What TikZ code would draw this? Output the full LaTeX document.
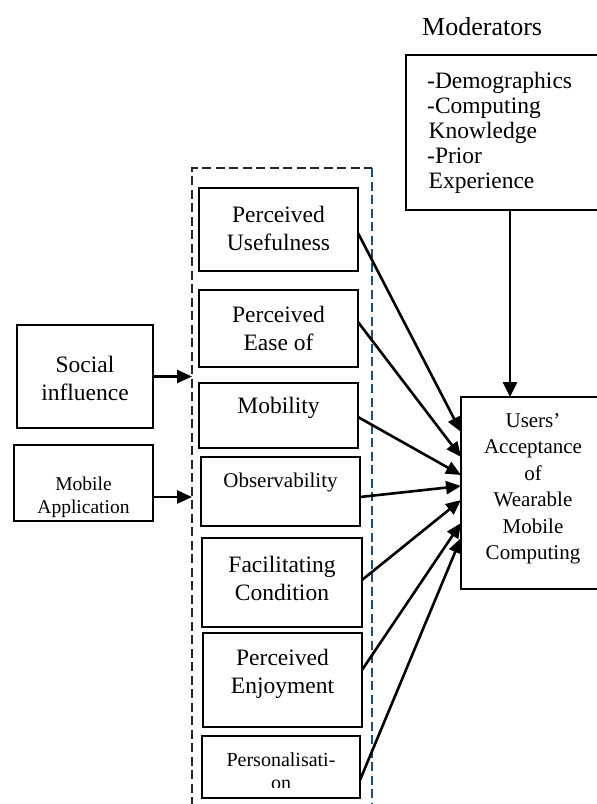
\documentclass[tikz,border=0pt]{standalone}
\usepackage{fontspec}
\setmainfont{Liberation Serif}
\usetikzlibrary{arrows.meta}
\newcommand{\stk}[1]{\begin{tabular}[t]{@{}c@{}}#1\end{tabular}}
\newcommand{\stkl}[1]{\begin{tabular}[t]{@{}l@{}}#1\end{tabular}}
\definecolor{dashblue}{HTML}{1F4E79}
\begin{document}
\begin{tikzpicture}[x=1pt,y=-1pt,
  box/.style={draw, line width=1.8pt, rectangle, inner sep=0pt, outer sep=0pt},
  thinbox/.style={draw, line width=1.3pt, rectangle, inner sep=0pt, outer sep=0pt},
  lbl/.style={anchor=base, inner sep=0pt, font=\fontsize{23.5}{28}\selectfont},
  arr/.style={line width=2.6pt, -{Triangle[length=15pt,width=13pt]}},
  frame/.style={line width=1.2pt, dash pattern=on 9pt off 4.5pt}]
\useasboundingbox (0,0) rectangle (597,804);

% dashed frame
\coordinate (fbl) at (192,806);
\coordinate (ftl) at (192,168);
\coordinate (ftr) at (372,168);
\coordinate (fbr) at (372,806);
\draw[frame, black!85] (fbl) -- (ftl) -- (ftr);
\draw[frame, dashblue] (ftr) -- (fbr);

% construct boxes
\node[box, minimum width=159pt, minimum height=83pt] (pu) at (278.5,229.5) {};
\node[box, minimum width=159pt, minimum height=77pt] (pe) at (278.5,328.5) {};
\node[box, minimum width=159pt, minimum height=65pt] (mo) at (278.5,415.5) {};
\node[box, minimum width=159pt, minimum height=69pt] (ob) at (280.5,491.5) {};
\node[box, minimum width=160pt, minimum height=89pt] (fc) at (282,582.5) {};
\node[box, minimum width=159pt, minimum height=94pt] (en) at (282.5,680) {};
\node[box, minimum width=158pt, minimum height=62pt] (ps) at (281,767) {};

\node[lbl] (pu-t) at ([yshift=-34pt]pu.north) {\stk{Perceived\\Usefulness}};
\node[lbl] (pe-t) at ([yshift=-32pt]pe.north) {\stk{Perceived\\Ease of}};
\node[lbl] (mo-t) at ([yshift=-30pt]mo.north) {Mobility};
\node[lbl, font=\fontsize{21}{25}\selectfont] (ob-t) at ([yshift=-30pt]ob.north) {Observability};
\node[lbl] (fc-t) at ([yshift=-34pt]fc.north) {\stk{Facilitating\\Condition}};
\node[lbl] (en-t) at ([yshift=-32pt]en.north) {\stk{Perceived\\Enjoyment}};
\begin{scope}
  \clip (202,736) rectangle (360,787.5);
  \node[lbl, font=\fontsize{20}{23}\selectfont] (ps-t) at ([yshift=-30pt]ps.north) {\stk{Personalisati-\\on}};
\end{scope}

% left boxes
\node[box, minimum width=136pt, minimum height=103pt] (si) at (85,376.5) {};
\node[lbl] (si-t) at ([yshift=-47pt]si.north) {\stk{Social\\influence}};
\node[box, minimum width=139pt, minimum height=76pt] (ma) at (83.5,483) {};
\node[lbl, font=\fontsize{19.5}{23}\selectfont] (ma-t) at ([yshift=-45pt]ma.north) {\stk{Mobile\\Application}};

% moderators
\node[anchor=base west, inner sep=0pt, font=\fontsize{26}{30}\selectfont] (md-title) at (422,35) {Moderators};
\node[box, line width=1.6pt, minimum width=192pt, minimum height=155pt] (md) at (502,132.5) {};
\node[anchor=base west, inner sep=0pt, font=\fontsize{23.5}{25}\selectfont] (md-t) at (427,88)
  {\stkl{-Demographics\\-Computing\\\hspace{1.5pt}Knowledge\\-Prior\\\hspace{1.5pt}Experience}};

% users acceptance
\node[thinbox, minimum width=144pt, minimum height=192pt] (ua) at (533,493) {};
\node[lbl, font=\fontsize{21}{26.5}\selectfont] (ua-t) at ([yshift=-30pt]ua.north)
  {\stk{Users’\\Acceptance\\of\\Wearable\\Mobile\\Computing}};

% arrows into frame
\coordinate (si-tip) at (192,376.5);
\coordinate (ma-tip) at (192,497);
\draw[arr] (si.east) -- (si-tip);
\draw[arr] ([yshift=-14pt]ma.east) -- (ma-tip);

% moderators arrow
\draw[arr, -{Triangle[length=15pt,width=14pt]}] ([xshift=8pt]md.south) -- ([xshift=-23pt]ua.north);

% construct arrows
\draw[arr] ([yshift=-3.5pt]pu.east) -- ([yshift=61pt]ua.west);
\draw[arr] ([yshift=6.5pt]pe.east) -- ([yshift=36pt]ua.west);
\draw[arr] ([yshift=-1.5pt]mo.east) -- ([yshift=18pt]ua.west);
\draw[arr] ([yshift=-5.5pt]ob.east) -- ([yshift=7pt]ua.west);
\draw[arr] ([yshift=2.5pt]fc.east) -- ([yshift=-7pt]ua.west);
\draw[arr] ([yshift=10pt]en.east) -- ([yshift=-30pt]ua.west);
\draw[arr] ([yshift=-13pt]ps.east) -- ([yshift=-45pt]ua.west);
\end{tikzpicture}
\end{document}
